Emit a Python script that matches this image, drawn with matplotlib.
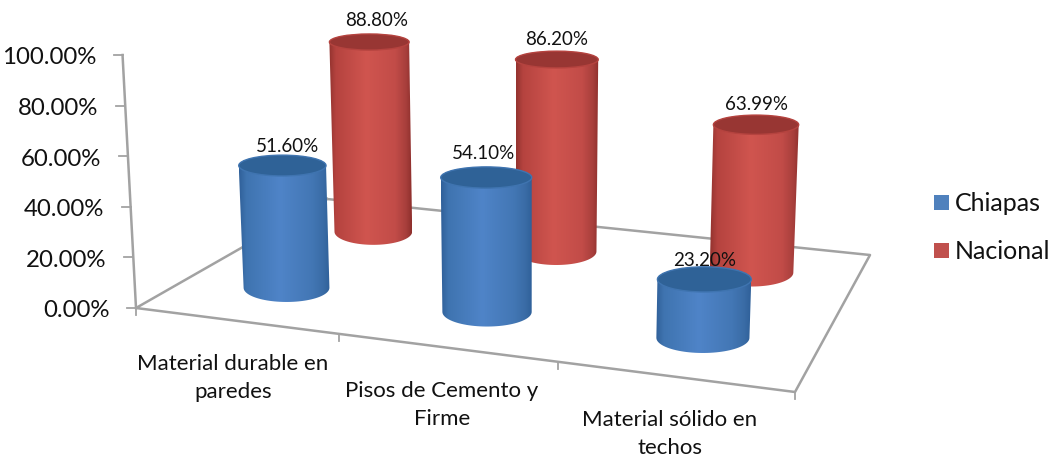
import numpy as np
import matplotlib
matplotlib.use('Agg')
import matplotlib.pyplot as plt
from matplotlib.colors import LinearSegmentedColormap
from matplotlib.patches import Ellipse, PathPatch, Rectangle
from matplotlib.path import Path

plt.rcParams['font.family'] = ['Lato', 'DejaVu Sans']

categories = ['Material durable en\nparedes', 'Pisos de Cemento y\nFirme', 'Material sólido en\ntechos']
chiapas = [51.60, 54.10, 23.20]
nacional = [88.80, 86.20, 63.99]
series_names = ['Chiapas', 'Nacional']
y_ticks = [0, 20, 40, 60, 80, 100]

# floor corners in pixels: front left, front right, back right, back left
corners = np.array([[136, 309], [795, 393], [870, 256], [327, 200]], dtype=float)
GRID = '#a2a2a2'
CAP_DROP = 3.5

grad_pos = [0, 0.08, 0.45, 0.8, 0.93, 1]
shades = {
    'Chiapas': (['#30619a', '#3f74b0', '#4f84c8', '#4377b5', '#3a6ca6', '#30619a'], '#2f6297', '#4f81bd'),
    'Nacional': (['#94332f', '#b5433f', '#d0554f', '#c24c48', '#a83f3c', '#8f302d'], '#983633', '#c0504d'),
}


def floor_map():
    # homography from the unit square to the floor
    src = [(0, 0), (1, 0), (1, 1), (0, 1)]
    A, b = [], []
    for (u, v), (x, y) in zip(src, corners):
        A.append([u, v, 1, 0, 0, 0, -u * x, -v * x])
        A.append([0, 0, 0, u, v, 1, -u * y, -v * y])
        b += [x, y]
    return np.append(np.linalg.solve(np.array(A), np.array(b)), 1).reshape(3, 3)


H = floor_map()


def floor_point(cat, depth):
    p = H @ np.array([cat / 3, depth / 2, 1])
    return p[0] / p[2], p[1] / p[2]


def lift(x, y, value):
    # height scale grows towards the viewer, verticals lean to a vanishing point
    px = value * (2.53 + (y - 309) * 0.00465)
    return x + (x - 530) * 1.35e-4 * px, y - px, px


def half_arc(cx, cy, a, b, start, stop):
    t = np.linspace(start, stop, 50)
    return np.column_stack([cx + a * np.cos(t), cy + b * np.sin(t)])


def cylinder(ax, cat, depth, value, name, z):
    x, y = floor_point(cat, depth)
    tx, ty, px = lift(x, y, value)
    ty += CAP_DROP
    a = (86 + (y - 290) * 0.145) / 2
    a_top = a * (1 + 1.35e-4 * px)
    b = 9.5 + (y - 40) * 0.019
    b_top = 8 + (ty - 40) * 0.019
    # y axis points down, so sin > 0 is the front of the ellipse
    bottom = half_arc(x, y, a, b, 0, np.pi)
    top = half_arc(tx, ty, a_top, b_top, np.pi, 2 * np.pi)
    pts = np.vstack([bottom, top, bottom[:1]])
    codes = [Path.MOVETO] + [Path.LINETO] * (len(pts) - 2) + [Path.CLOSEPOLY]
    body = PathPatch(Path(pts, codes), fc='none', ec='none', zorder=z)
    ax.add_patch(body)
    stops, top_col, _ = shades[name]
    cmap = LinearSegmentedColormap.from_list(name, list(zip(grad_pos, stops)))
    left, right = pts[:, 0].min(), pts[:, 0].max()
    img = ax.imshow(np.linspace(0, 1, 128).reshape(1, -1), cmap=cmap, aspect='auto',
                    extent=[left, right, pts[:, 1].max(), pts[:, 1].min()], zorder=z)
    img.set_clip_path(body)
    ax.add_patch(Ellipse((tx, ty), 2 * a_top, 2 * b_top, fc=top_col, ec=stops[1], lw=1, zorder=z + 0.5))
    return tx, ty


fig = plt.figure(figsize=(10.49, 4.6), dpi=100)
ax = fig.add_axes([0, 0, 1, 1])

# floor and walls
ax.plot(*corners[[3, 0, 1, 2, 3]].T, color=GRID, lw=1.8, zorder=1)

# value axis
for v in y_ticks:
    tx, ty, _ = lift(corners[0, 0], corners[0, 1], v)
    ax.plot([tx - 9, tx], [ty, ty], color=GRID, lw=1.3, zorder=1)
    ax.text(tx - 26.5, ty + 2, f'{v:.2f}%', ha='right', va='center', fontsize=17.3, color='#111111')
top_x, top_y, _ = lift(corners[0, 0], corners[0, 1], y_ticks[-1])
ax.plot([corners[0, 0], top_x], [corners[0, 1], top_y], color=GRID, lw=1.8, zorder=1)

# category ticks along the front edge
for i in range(4):
    x, y = floor_point(i, 0)
    ax.plot([x, x], [y, y + 7], color=GRID, lw=1.3, zorder=1)

cat_pos = [(233, 378), (442, 405), (670, 434)]
for label, (x, y) in zip(categories, cat_pos):
    ax.text(x, y, label, ha='center', va='center', fontsize=16, linespacing=1.55, color='#111111')

# back row first so the blue ones cover the red ones
label_shift = [[(5, -20), (-3, -25), (0, -20)], [(7, -23), (0, -21), (0, -21)]]
tops = []
for depth, (values, name) in reversed(list(enumerate(zip([chiapas, nacional], series_names)))):
    for i, val in enumerate(values):
        tx, ty = cylinder(ax, i + 0.5, depth + 0.5, val, name, 3 + 2 - depth)
        dx, dy = label_shift[depth][i]
        tops.append((tx + dx, ty + dy, val))

for x, y, val in tops:
    ax.text(x, y, f'{val:.2f}%', ha='center', va='center', fontsize=13.5, color='#111111', zorder=10)

# legend
for name, y in zip(series_names, [203.5, 251.5]):
    ax.add_patch(Rectangle((934, y - 7.5), 15, 15, fc=shades[name][2], ec='none'))
    ax.text(955, y, name, ha='left', va='center', fontsize=18, color='#111111')

ax.set_xlim(0, 1049)
ax.set_ylim(460, 0)
ax.axis('off')
fig.savefig('out.png', dpi=100, facecolor='white')
